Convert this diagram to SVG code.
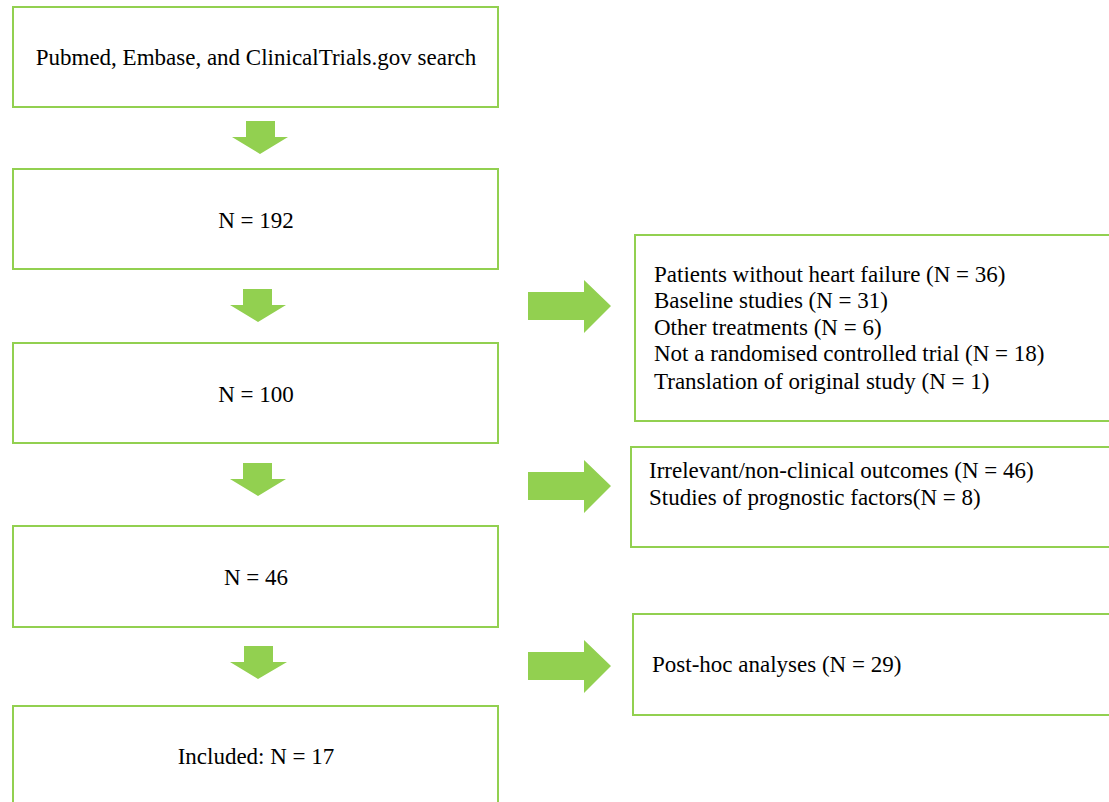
<svg xmlns="http://www.w3.org/2000/svg" width="1109" height="802" viewBox="0 0 1109 802">
<style>
.box{fill:#fff;stroke:#92D050;stroke-width:2}
.arr{fill:#92D050;stroke:none}
text{font-family:"Liberation Serif","Times New Roman",serif;font-size:23px;fill:#000}
.c{text-anchor:middle}
</style>
<rect x="0" y="0" width="1109" height="802" fill="#fff"/>
<g id="connectors">
<polygon class="arr" points="246,121 275,121 275,137 288,137 260,154 232,137 246,137"/>
<polygon class="arr" points="243,289 272,289 272,305 286,305 258,322 230,305 243,305"/>
<polygon class="arr" points="243,463 272,463 272,479 286,479 258,496 230,479 243,479"/>
<polygon class="arr" points="244,646 273,646 273,662 287,662 258,679 230,662 244,662"/>
<polygon class="arr" points="528,292 584,292 584,280 611,306 584,333 584,320 528,320"/>
<polygon class="arr" points="528,472 584,472 584,460 611,486 584,513 584,500 528,500"/>
<polygon class="arr" points="528,652 584,652 584,640 611,666 584,693 584,680 528,680"/>
</g>
<g id="n1"><rect class="box" x="13" y="7" width="485" height="100"/><text class="c" x="256" y="65">Pubmed, Embase, and ClinicalTrials.gov search</text></g>
<g id="n2"><rect class="box" x="13" y="169" width="485" height="100"/><text class="c" x="256" y="228">N = 192</text></g>
<g id="n3"><rect class="box" x="13" y="343" width="485" height="100"/><text class="c" x="256" y="402">N = 100</text></g>
<g id="n4"><rect class="box" x="13" y="526" width="485" height="101"/><text class="c" x="256" y="585">N = 46</text></g>
<g id="n5"><rect class="box" x="13" y="706" width="485" height="110"/><text class="c" x="256" y="764">Included: N = 17</text></g>
<g id="x1"><rect class="box" x="635" y="235" width="490" height="186"/>
<text x="654" y="282">Patients without heart failure (N = 36)</text>
<text x="654" y="308">Baseline studies (N = 31)</text>
<text x="654" y="335">Other treatments (N = 6)</text>
<text x="654" y="361">Not a randomised controlled trial (N = 18)</text>
<text x="654" y="389">Translation of original study (N = 1)</text></g>
<g id="x2"><rect class="box" x="631" y="447" width="494" height="100"/>
<text x="649" y="478">Irrelevant/non-clinical outcomes (N = 46)</text>
<text x="649" y="505">Studies of prognostic factors(N = 8)</text></g>
<g id="x3"><rect class="box" x="633" y="614" width="492" height="101"/>
<text x="652" y="672">Post-hoc analyses (N = 29)</text></g>
</svg>
